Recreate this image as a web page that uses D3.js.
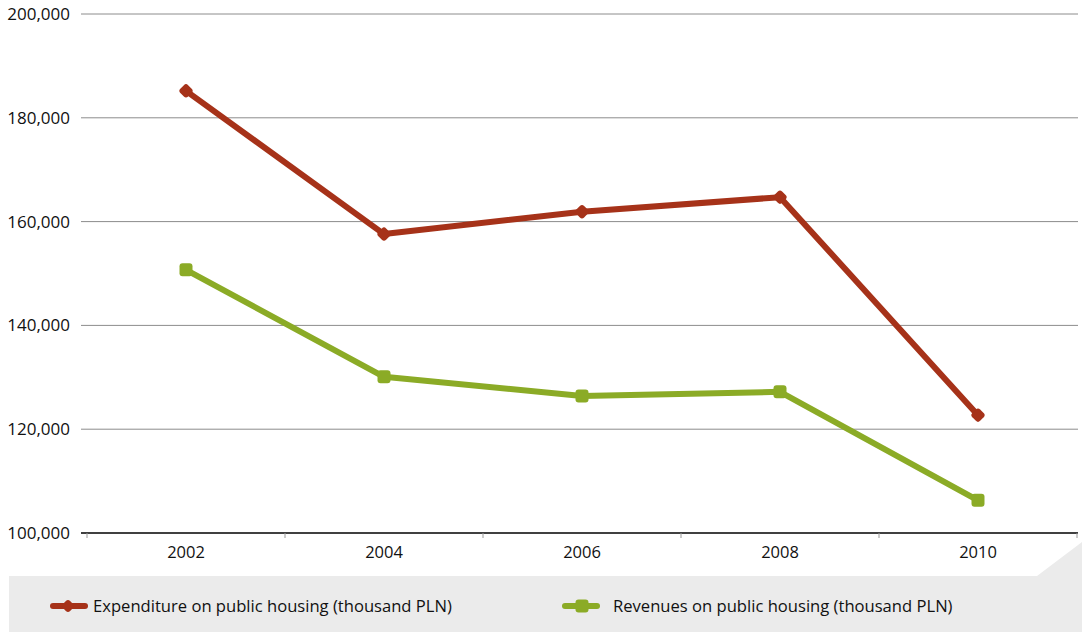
<!DOCTYPE html>
<html><head><meta charset="utf-8">
<script src="https://cdn.jsdelivr.net/npm/d3@7"></script>
<style>body{margin:0;background:#fff}svg{display:block}text{font-family:"Open Sans",sans-serif;fill:#111}</style>
</head><body><svg id="c" width="1082" height="632"></svg>
<script>
const years = ["2002","2004","2006","2008","2010"];
const expenditure = [185200, 157600, 161900, 164700, 122700];
const revenues = [150700, 130100, 126400, 127200, 106300];
const yTicks = [100000, 120000, 140000, 160000, 180000, 200000];
const seriesNames = ["Expenditure on public housing (thousand PLN)", "Revenues on public housing (thousand PLN)"];
const colors = ["#a63219", "#8bab26"];

const svg = d3.select("#c");
const x = d3.scaleBand().domain(years).range([87, 1077]);
const y = d3.scaleLinear().domain([100000, 200000]).range([533, 14]);
const fmt = d3.format(",");

// gridlines
svg.append("g").selectAll("line").data(yTicks.slice(1)).join("line")
  .attr("x1", 81).attr("x2", 1078).attr("y1", d => y(d)).attr("y2", d => y(d))
  .attr("stroke", "#8c8c8c").attr("stroke-width", 1);

// y labels
svg.append("g").selectAll("text").data(yTicks).join("text")
  .attr("x", 70).attr("y", d => y(d)).attr("dy", "0.35em").attr("text-anchor", "end")
  .style("font-size", "17px").text(d => fmt(d));

// x axis
const xa = svg.append("g").attr("transform", "translate(0,533)")
  .call(d3.axisBottom(x).tickSizeOuter(0).tickSize(0).tickPadding(13));
xa.select(".domain").attr("d", "M81,0H1078").attr("stroke", "#000").attr("stroke-width", 1.5);
xa.selectAll("text").style("font-size", "16.5px").style("font-family", '"Open Sans",sans-serif').attr("fill", "#111");
// tick marks at band boundaries
const bounds = years.map(d => x(d)).concat([x(years[years.length-1]) + x.bandwidth()]);
svg.append("g").selectAll("line").data(bounds).join("line")
  .attr("x1", d => d).attr("x2", d => d).attr("y1", 533).attr("y2", 538)
  .attr("stroke", "#999");

const cx = d => x(d) + x.bandwidth() / 2;
const line = d3.line().x((d, i) => cx(years[i])).y(d => y(d));

// legend background
svg.append("path").attr("d", "M9,576H1037L1082,542V632H9Z").attr("fill", "#ebebeb");

function diamond(g, px, py, color, s) {
  g.append("rect").attr("x", -s/2).attr("y", -s/2).attr("width", s).attr("height", s).attr("rx", 3)
    .attr("transform", `translate(${px},${py}) rotate(45)`).attr("fill", color);
}
function square(g, px, py, color, s) {
  g.append("rect").attr("x", px - s/2).attr("y", py - s/2).attr("width", s).attr("height", s).attr("rx", 3)
    .attr("fill", color);
}

[expenditure, revenues].forEach((vals, k) => {
  const g = svg.append("g");
  g.append("path").datum(vals).attr("d", line).attr("fill", "none")
    .attr("stroke", colors[k]).attr("stroke-width", 6).attr("stroke-linejoin", "round").attr("stroke-linecap", "round");
  vals.forEach((v, i) => {
    if (k === 0) diamond(g, cx(years[i]), y(v), colors[k], 11);
    else square(g, cx(years[i]), y(v), colors[k], 13);
  });
});

// legend
const legX = [50, 562];
seriesNames.forEach((n, k) => {
  const g = svg.append("g");
  g.append("line").attr("x1", legX[k] + 3).attr("x2", legX[k] + 35).attr("y1", 606).attr("y2", 606)
    .attr("stroke", colors[k]).attr("stroke-width", 6).attr("stroke-linecap", "round");
  if (k === 0) diamond(g, legX[k] + 18, 606, colors[k], 10);
  else square(g, legX[k] + 20, 606, colors[k], 13);
  g.append("text").attr("x", legX[k] + (k === 0 ? 43 : 51)).attr("y", 606).attr("dy", "0.35em")
    .style("font-size", "16.6px").text(n);
});
</script></body></html>
